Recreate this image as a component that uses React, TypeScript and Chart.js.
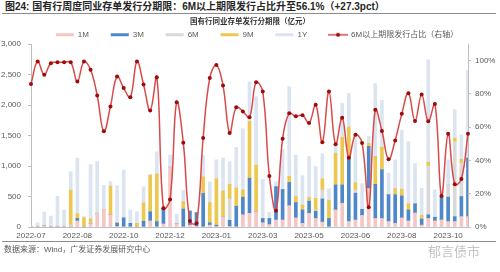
import React, { useEffect, useRef } from 'react';
import { Chart, registerables } from 'chart.js';

Chart.register(...registerables);

// ---- data (亿元, weekly) ----
const weeks: string[] = [
  '2022-07', '2022-07', '2022-07', '2022-07',
  '2022-08', '2022-08', '2022-08', '2022-08', '2022-08',
  '2022-09', '2022-09', '2022-09', '2022-09',
  '2022-10', '2022-10', '2022-10', '2022-10',
  '2022-11', '2022-11', '2022-11', '2022-11',
  '2022-12', '2022-12', '2022-12', '2022-12', '2022-12',
  '2023-01', '2023-01', '2023-01', '2023-01',
  '2023-02', '2023-02', '2023-02', '2023-02',
  '2023-03', '2023-03', '2023-03', '2023-03', '2023-03',
  '2023-04', '2023-04', '2023-04',
  '2023-05', '2023-05', '2023-05', '2023-05',
  '2023-06', '2023-06', '2023-06', '2023-06',
  '2023-07', '2023-07', '2023-07', '2023-07',
  '2023-08', '2023-08', '2023-08', '2023-08',
  '2023-09', '2023-09', '2023-09', '2023-09',
  '2023-10', '2023-10', '2023-10', '2023-10', '2023-10',
];

const m1: number[] = [
  2, 0, 20, 0, 5, 0, 10, 100, 0, 55, 225, 290, 200, 10, 0, 0, 0,
  0, 100, 0, 50, 980, 53, 0, 30, 10, 0, 30, 10, 170, 10, 0, 200, 224,
  250, 70, 40, 115, 115, 350, 150, 60, 224, 140, 80, 0, 280, 390, 90, 115,
  190, 630, 140, 140, 90, 60, 150, 100, 230, 30, 140, 100, 115, 90, 90, 170, 170,
];
const m3: number[] = [
  0, 0, 0, 0, 0, 0, 0, 40, 0, 0, 0, 0, 0, 55, 150, 60, 0,
  95, 150, 90, 255, 0, 0, 295, 230, 225, 550, 40, 20, 0, 100, 340, 290, 576,
  0, 70, 100, 546, 500, 380, 250, 220, 200, 120, 380, 140, 410, 300, 1060, 440,
  100, 690, 560, 800, 440, 470, 360, 180, 150, 100, 60, 60, 380, 400, 80, 330, 960,
];
const m6: number[] = [
  0, 0, 0, 0, 0, 0, 20, 0, 0, 0, 0, 0, 0, 0, 0, 0, 0,
  0, 0, 0, 0, 0, 0, 0, 0, 0, 0, 0, 0, 0, 350, 0, 0, 0,
  0, 0, 0, 0, 0, 0, 0, 0, 0, 20, 150, 0, 0, 0, 0, 50,
  0, 0, 0, 0, 0, 0, 0, 0, 0, 0, 800, 0, 0, 200, 1230, 550, 0,
];
const m9: number[] = [
  0, 0, 0, 0, 0, 0, 575, 80, 150, 80, 0, 0, 470, 0, 0, 0, 60,
  300, 600, 780, 0, 0, 0, 120, 0, 0, 270, 330, 760, 420, 240, 300, 120, 930,
  765, 0, 0, 0, 0, 100, 100, 80, 60, 190, 180, 300, 520, 780, 490, 120,
  0, 50, 460, 370, 0, 100, 110, 100, 0, 60, 60, 0, 0, 0, 55, 60, 0,
];
const y1: number[] = [
  13, 70, 225, 180, 500, 280, 300, 910, 20, 887, 846, 393, 73, 613, 784, 219, 190,
  266, 10, 365, 38, 200, 160, 185, 10, 5, 360, 340, 310, 540, 370, 666, 1000, 650,
  1120, 640, 100, 80, 660, 1470, 680, 480, 670, 520, 410, 190, 140, 560, 550, 810,
  420, 120, 1190, 765, 350, 470, 970, 1020, 660, 445, 1680, 450, 110, 410, 465, 400, 1440,
];
// 6M以上期限发行占比 (%)
const ratio: number[] = [
  86, 99.5, 91.5, 98.5, 99, 99, 99, 87.5, 99.5, 94.5, 79, 57.5, 72.5, 90.5, 83.5, 78, 99.5,
  85.6, 70, 90, 11.2, 16.6, 75, 50.7, 3.6, 2.2, 53.5, 89.6, 97.4, 85, 56.5, 72, 69.5, 66,
  87, 81.4, 30.7, 9.8, 53, 68.4, 66.5, 67.2, 62.5, 73.5, 51, 81.4, 49.7, 65.7, 41.7, 55.5,
  50.5, 11.8, 70.5, 57.7, 40.7, 52, 68, 80.4, 63.7, 79.6, 63.5, 74, 18.7, 56, 25.7, 28.8, 56.1,
];

const seriesNames = ['1M', '3M', '6M', '9M', '1Y'];
const lineName = '6M以上期限发行占比（右轴）';
const chartTitle = '国有行同业存单发行分期限（亿元）';
const figTitle = '图24:  国有行周度同业存单发行分期限：6M以上期限发行占比升至56.1%（+27.3pct）';
const sourceText = '数据来源：Wind，广发证券发展研究中心';

const COLORS = ['#f4c6c6', '#4f88c8', '#d9d9d9', '#ecc850', '#dbe5f1'];
const LINE_COLOR = '#d94a4a';
const POINT_COLOR = '#9e0b0b';
const AXIS_COLOR = '#bfbfbf';
const TEXT_COLOR = '#595959';
const FONT = '"Liberation Sans", "Noto Sans CJK SC", Arial, sans-serif';

export default function App() {
  const ref = useRef<HTMLCanvasElement>(null);

  useEffect(() => {
    const icon = document.createElement('canvas');
    icon.width = 20;
    icon.height = 6;
    const c = icon.getContext('2d')!;
    c.strokeStyle = LINE_COLOR;
    c.lineWidth = 1.5;
    c.beginPath();
    c.moveTo(0, 3);
    c.lineTo(20, 3);
    c.stroke();
    c.fillStyle = POINT_COLOR;
    c.beginPath();
    c.arc(10, 3, 2, 0, Math.PI * 2);
    c.fill();

    const barData = [m1, m3, m6, m9, y1];
    const datasets: any[] = barData.map((d, i) => ({
      type: 'bar',
      label: seriesNames[i],
      data: d,
      backgroundColor: COLORS[i],
      borderWidth: 0,
      barThickness: 3,
      stack: 's',
      yAxisID: 'y',
      order: 2,
    }));
    datasets.push({
      type: 'line',
      label: lineName,
      data: ratio,
      borderColor: LINE_COLOR,
      backgroundColor: LINE_COLOR,
      borderWidth: 1.5,
      pointRadius: 2,
      pointBackgroundColor: POINT_COLOR,
      pointBorderColor: POINT_COLOR,
      pointBorderWidth: 0,
      tension: 0.4,
      yAxisID: 'y1',
      order: 0,
    });

    const shiftLegend = {
      id: 'shiftLegend',
      afterLayout(ch: any) {
        const l = ch.legend;
        if (l) {
          l.left += 7;
          l.right += 7;
        }
      },
    };

    const chart = new Chart(ref.current!, {
      type: 'bar',
      data: { labels: weeks, datasets },
      plugins: [shiftLegend],
      options: {
        responsive: false,
        animation: false,
        layout: { padding: 0 },
        plugins: {
          tooltip: { enabled: false },
          title: {
            display: true,
            text: chartTitle,
            color: '#333333',
            font: { family: FONT, size: 7.5, weight: 'bold' },
            padding: { top: 3.5, bottom: 0.3 },
          },
          legend: {
            display: true,
            maxHeight: 17.2,
            labels: {
              color: TEXT_COLOR,
              font: { family: FONT, size: 8 },
              usePointStyle: true,
              pointStyleWidth: 18,
              boxHeight: 3,
              padding: 4,
              generateLabels: (ch: any) => {
                const items = Chart.defaults.plugins.legend.labels
                  .generateLabels(ch)
                  .sort((a: any, b: any) => a.datasetIndex - b.datasetIndex);
                return items.map((it: any) => {
                  if (it.datasetIndex < 5) {
                    return { ...it, text: it.text + '        ', pointStyle: 'rect', lineWidth: 0, strokeStyle: 'rgba(0,0,0,0)' };
                  }
                  return { ...it, pointStyle: icon, lineWidth: 0 };
                });
              },
            },
          },
        },
        scales: {
          x: {
            stacked: true,
            offset: false,
            afterFit: (s: any) => { s.height = 15; },
            grid: { display: true, drawOnChartArea: false, drawTicks: false },
            border: { display: true, color: AXIS_COLOR },
            ticks: {
              autoSkip: false,
              maxRotation: 0,
              padding: 4,
              color: TEXT_COLOR,
              font: { family: FONT, size: 8 },
              callback: (_v: any, i: number) => (i % 7 === 0 ? weeks[i] : ''),
            },
          },
          y: {
            stacked: true,
            position: 'left',
            min: 0,
            max: 3000,
            afterFit: (s: any) => { s.width = 31; },
            grid: { display: true, drawOnChartArea: false, drawTicks: true, tickLength: 3, color: AXIS_COLOR },
            border: { display: true, color: AXIS_COLOR },
            ticks: {
              stepSize: 500,
              padding: 7,
              color: TEXT_COLOR,
              font: { family: FONT, size: 8 },
              callback: (v: any) => Number(v).toLocaleString('en-US'),
            },
          },
          y1: {
            position: 'right',
            min: 0,
            max: 110,
            afterFit: (s: any) => { s.width = 32; },
            afterBuildTicks: (s: any) => { s.ticks = s.ticks.filter((t: any) => t.value <= 100); },
            grid: { display: true, drawOnChartArea: false, drawTicks: true, tickLength: 3, color: AXIS_COLOR },
            border: { display: true, color: AXIS_COLOR },
            ticks: {
              stepSize: 20,
              padding: 4,
              color: TEXT_COLOR,
              font: { family: FONT, size: 8 },
              callback: (v: any) => v + '%',
            },
          },
        },
      } as any,
    });
    return () => chart.destroy();
  }, []);

  return (
    <div style={{ position: 'absolute', left: 0, top: 0, width: 500, height: 272, background: '#fff', overflow: 'hidden', fontFamily: FONT }}>
      <div style={{ position: 'absolute', left: 5, top: 1, fontSize: 10, fontWeight: 'bold', color: '#262626', whiteSpace: 'nowrap', lineHeight: '12px' }}>
        {figTitle}
      </div>
      <div style={{ position: 'absolute', left: 2, top: 13, width: 494, height: 1, background: '#8c8c8c' }} />
      <canvas ref={ref} width={500} height={228} style={{ position: 'absolute', left: 0, top: 14, width: 500, height: 228 }} />
      <div style={{ position: 'absolute', left: 2, top: 241, width: 494, height: 1, background: '#8c8c8c' }} />
      <div style={{ position: 'absolute', left: 4, top: 245, fontSize: 8, color: TEXT_COLOR, whiteSpace: 'nowrap', lineHeight: '10px' }}>
        {sourceText}
      </div>
      <div style={{ position: 'absolute', left: 428, top: 244, fontSize: 13, color: '#c4c4c4', whiteSpace: 'nowrap', lineHeight: '15px' }}>
        郁言债市
      </div>
    </div>
  );
}
